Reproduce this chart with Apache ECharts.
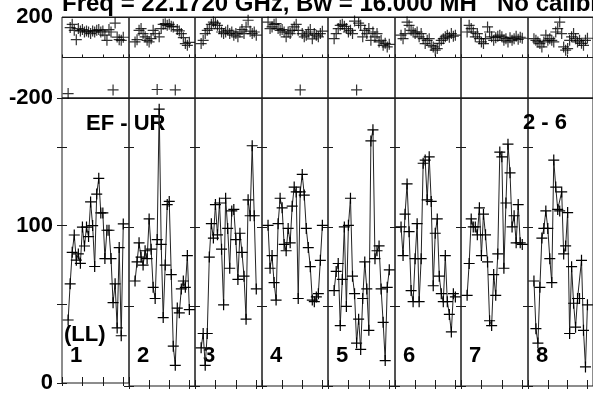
<!DOCTYPE html>
<html><head><meta charset="utf-8">
<script src="https://cdn.jsdelivr.net/npm/echarts@6/dist/echarts.min.js"></script>
<style>html,body{margin:0;padding:0;background:#fff}#c{width:593px;height:394px}</style>
</head><body><div id="c"></div>
<script>
// channels plotted in each IF panel
const channels = [3,4,5,6,7,8,9,10,11,12,13,14,15,16,17,18,19,20,21,22,23,24,25,26,27,28,29,30];
// amplitude per IF
const amp1 = [40,63,83,94,78,82,76,99,87,99,93,115,100,74,120,130,108,108,79,97,97,79,51,63,35,86,30,101];
const amp2 = [66,78,90,81,76,85,80,105,86,62,55,92,174,89,43,76,114,116,70,25,13,49,46,61,66,62,82,48];
const amp3 = [24,33,13,33,81,102,93,114,95,115,86,51,118,99,74,110,111,92,67,96,84,69,42,117,107,151,107,61];
const amp4 = [101,74,82,65,54,102,118,112,89,85,99,90,113,125,122,55,122,133,120,99,87,75,54,53,56,58,79,101];
const amp5 = [60,72,77,38,67,100,50,101,118,69,58,27,42,23,55,78,61,35,154,161,80,85,88,61,40,16,62,73];
const amp6 = [100,82,108,127,97,60,53,80,102,53,80,140,142,117,144,116,63,96,105,69,58,53,82,53,45,34,58,56];
const amp7 = [57,77,105,100,100,95,112,82,108,95,78,41,38,70,57,83,147,144,74,115,152,134,100,107,90,114,90,89];
const amp8 = [66,36,27,62,93,99,110,99,80,65,142,125,111,110,122,83,88,109,33,75,52,37,55,55,79,35,12,51];
// phase per IF (degrees)
const ph1 = [-178,148,164,134,88,143,131,138,126,131,126,118,131,126,134,138,126,131,110,85,138,126,-160,170,101,88,85,100];
const ph2 = [77,88,134,143,118,102,85,77,93,134,118,-158,102,143,164,167,159,164,154,151,-160,138,131,118,98,69,60,75];
const ph3 = [69,85,118,134,143,164,175,170,159,143,126,118,126,134,118,126,110,118,102,126,138,118,151,184,130,118,126,110];
const ph4 = [175,143,151,164,167,143,134,138,126,102,126,118,134,151,164,134,-160,118,102,110,126,138,92,118,110,102,118,130];
const ph5 = [93,118,143,159,164,154,143,126,134,118,180,-160,170,159,102,134,118,143,85,126,102,118,77,85,60,70,52,65];
const ph6 = [110,93,118,175,159,134,126,118,126,102,118,93,69,85,93,60,52,36,44,70,85,93,102,110,100,118,105,110];
const ph7 = [126,159,143,126,102,118,93,77,69,93,151,126,102,85,98,105,110,102,85,93,77,98,85,93,105,90,100,95];
const ph8 = [93,85,77,69,52,77,110,85,93,85,77,126,143,175,118,52,36,44,85,102,118,93,77,85,70,60,85,95];
// tick labels and annotations
const ampTickLabels = ['0','100'];
const phaseTickLabels = ['-200','200'];
const ifLabels = ['1','2','3','4','5','6','7','8'];
const titleText = 'Freq = 22.1720 GHz, Bw = 16.000 MH';
const titleText2 = 'No calibration';
const baselineText = 'EF - UR';
const stokesText = '(LL)';
const timeText = '2 - 6';

const amps = [amp1,amp2,amp3,amp4,amp5,amp6,amp7,amp8];
const phs = [ph1,ph2,ph3,ph4,ph5,ph6,ph7,ph8];

const FONT = 'bold 22px "Liberation Sans", Arial, sans-serif';
const CROSS = 'path://M0,4.45L10,4.45L10,5.55L0,5.55Z M4.45,0L5.55,0L5.55,10L4.45,10Z';
const lefts = [62,129,195,262,328,395,461,528,594];
const PH_TOP = 17, PH_H = 81, AMP_TOP = 98, AMP_H = 288;
const AX = '#1a1a1a';

const grid = [], xAxis = [], yAxis = [], series = [];
for (let i = 0; i < 8; i++) {
  const L = lefts[i], W = lefts[i+1] - lefts[i];
  grid.push({left: L, top: PH_TOP, width: W, height: PH_H, show: true, borderColor: AX, borderWidth: 1, containLabel: false});
  grid.push({left: L, top: AMP_TOP, width: W, height: AMP_H, show: true, borderColor: AX, borderWidth: 1, containLabel: false});
  const gP = 2*i, gA = 2*i+1;
  const xBase = {type: 'value', min: 0, max: 32.8, interval: 10, axisLine: {show: false},
    axisLabel: {show: false}, splitLine: {show: false}};
  xAxis.push(Object.assign({}, xBase, {gridIndex: gP, position: 'bottom', axisTick: {inside: true, length: 3, lineStyle: {color: AX}}}));
  xAxis.push(Object.assign({}, xBase, {gridIndex: gA, position: 'bottom', axisTick: {inside: true, length: 6, lineStyle: {color: AX}}}));
  xAxis.push(Object.assign({}, xBase, {gridIndex: gA, position: 'top', axisTick: {inside: true, length: 3, lineStyle: {color: AX}}}));
  xAxis.push(Object.assign({}, xBase, {gridIndex: gP, position: 'top', axisTick: {show: false}}));
  const labStyle = {show: i === 0, color: '#000', fontFamily: '"Liberation Sans", Arial, sans-serif', fontWeight: 'bold', fontSize: 22, margin: 9};
  yAxis.push({gridIndex: gP, type: 'value', min: -200, max: 200, interval: 200, position: 'left',
    axisLine: {show: false}, axisTick: {inside: true, length: 4, lineStyle: {color: AX}},
    splitLine: {show: true, lineStyle: {color: AX, width: 1}},
    axisLabel: Object.assign({}, labStyle, {formatter: v => phaseTickLabels.includes(String(v)) ? String(v) : ''})});
  yAxis.push({gridIndex: gA, type: 'value', min: 0, max: 181, interval: 50, position: 'left',
    axisLine: {show: false}, axisTick: {inside: true, length: 5, lineStyle: {color: AX}},
    splitLine: {show: false},
    axisLabel: Object.assign({}, labStyle, {formatter: v => ampTickLabels.includes(String(v)) ? String(v) : ''})});
  yAxis.push({gridIndex: gA, type: 'value', min: 0, max: 181, interval: 50, position: 'right',
    axisLine: {show: false}, axisTick: {inside: true, length: 5, lineStyle: {color: AX}},
    splitLine: {show: false}, axisLabel: {show: false}});
  yAxis.push({gridIndex: gP, type: 'value', min: -200, max: 200, interval: 200, position: 'right',
    axisLine: {show: false}, axisTick: {show: false}, splitLine: {show: false}, axisLabel: {show: false}});

  series.push({type: 'scatter', xAxisIndex: 4*i, yAxisIndex: 4*i, silent: true,
    data: channels.map((c, k) => [c, phs[i][k]]), symbol: CROSS, symbolSize: 11,
    itemStyle: {color: '#000'}});
  series.push({type: 'line', xAxisIndex: 4*i+1, yAxisIndex: 4*i+1, silent: true,
    data: channels.map((c, k) => [c, amps[i][k]]), symbol: CROSS, symbolSize: 11, showSymbol: true,
    itemStyle: {color: '#000'}, lineStyle: {color: '#222', width: 1}});
}

const graphic = [
  {type: 'text', x: 62, y: 4.5, style: {text: titleText, font: 'bold 24px "Liberation Sans", Arial, sans-serif', fill: '#000', align: 'left', verticalAlign: 'middle'}},
  {type: 'text', x: 497, y: 4.5, style: {text: titleText2, font: 'bold 24px "Liberation Sans", Arial, sans-serif', fill: '#000', align: 'left', verticalAlign: 'middle'}},
  {type: 'text', x: 86, y: 123.5, style: {text: baselineText, font: FONT, fill: '#000', align: 'left', verticalAlign: 'middle'}},
  {type: 'text', x: 523, y: 122.5, style: {text: timeText, font: FONT, fill: '#000', align: 'left', verticalAlign: 'middle'}},
  {type: 'text', x: 64, y: 335, style: {text: stokesText, font: FONT, fill: '#000', align: 'left', verticalAlign: 'middle'}}
];
ifLabels.forEach((t, i) => {
  graphic.push({type: 'text', x: lefts[i] + 8, y: 356, style: {text: t, font: FONT, fill: '#000', align: 'left', verticalAlign: 'middle'}});
});

const chart = echarts.init(document.getElementById('c'), null, {renderer: 'canvas'});
chart.setOption({animation: false, backgroundColor: '#fff', grid, xAxis, yAxis, series, graphic});
</script></body></html>
